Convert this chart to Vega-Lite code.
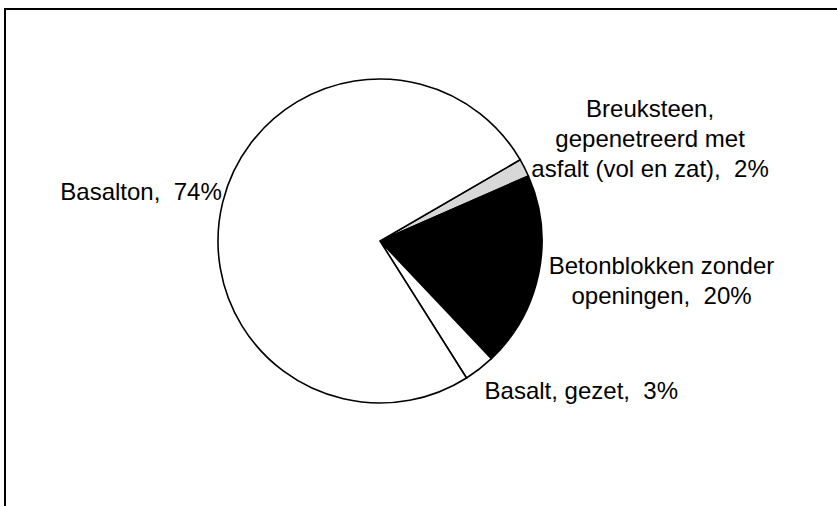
{
  "$schema": "https://vega.github.io/schema/vega-lite/v6.json",
  "autosize": "none",
  "width": 840,
  "height": 505,
  "padding": {"left": 5, "top": 9, "right": 0, "bottom": 0},
  "background": "white",
  "view": {"stroke": "black", "strokeWidth": 2},
  "data": {
    "values": [
      {"cat": "Breuksteen", "ord": 1, "value": 1.8, "label": "Breuksteen,\ngepenetreerd met\nasfalt (vol en zat),\u00a0 2%"},
      {"cat": "Betonblokken", "ord": 2, "value": 19.5, "label": "Betonblokken zonder\nopeningen,\u00a0 20%"},
      {"cat": "Basalt", "ord": 3, "value": 3.1, "label": "Basalt, gezet,\u00a0 3%"},
      {"cat": "Basalton", "ord": 4, "value": 75.6, "label": "Basalton,\u00a0 74%"}
    ]
  },
  "encoding": {
    "theta": {"field": "value", "type": "quantitative", "stack": true, "scale": {"range": [1.045, 7.3282]}},
    "order": {"field": "ord", "type": "quantitative"}
  },
  "layer": [
    {
      "mark": {"type": "arc", "x": 375, "y": 232, "outerRadius": 162, "stroke": "black", "strokeWidth": 1.6},
      "encoding": {
        "color": {
          "field": "cat", "type": "nominal", "legend": null,
          "scale": {"domain": ["Breuksteen", "Betonblokken", "Basalt", "Basalton"], "range": ["#d8d8d8", "#000000", "#ffffff", "#ffffff"]}
        }
      }
    },
    {
      "mark": {"type": "text", "x": 375, "y": 232, "radius": 175, "dx": 114, "dy": -52, "align": "center", "baseline": "middle", "lineBreak": "\n", "lineHeight": 30, "font": "Liberation Sans", "fontSize": 24, "color": "black"},
      "encoding": {"text": {"field": "label", "condition": {"test": "datum.cat !== 'Breuksteen'", "value": ""}}}
    },
    {
      "mark": {"type": "text", "x": 375, "y": 232, "radius": 175, "dx": 110, "dy": -9, "align": "center", "baseline": "middle", "lineBreak": "\n", "lineHeight": 30, "font": "Liberation Sans", "fontSize": 24, "color": "black"},
      "encoding": {"text": {"field": "label", "condition": {"test": "datum.cat !== 'Betonblokken'", "value": ""}}}
    },
    {
      "mark": {"type": "text", "x": 375, "y": 232, "radius": 172, "dx": -1, "dy": 15, "align": "left", "baseline": "middle", "font": "Liberation Sans", "fontSize": 24, "color": "black"},
      "encoding": {"text": {"field": "label", "condition": {"test": "datum.cat !== 'Basalt'", "value": ""}}}
    },
    {
      "mark": {"type": "text", "x": 375, "y": 232, "radius": 165, "dx": 2, "dy": -9, "align": "right", "baseline": "middle", "font": "Liberation Sans", "fontSize": 24, "color": "black"},
      "encoding": {"text": {"field": "label", "condition": {"test": "datum.cat !== 'Basalton'", "value": ""}}}
    }
  ]
}
